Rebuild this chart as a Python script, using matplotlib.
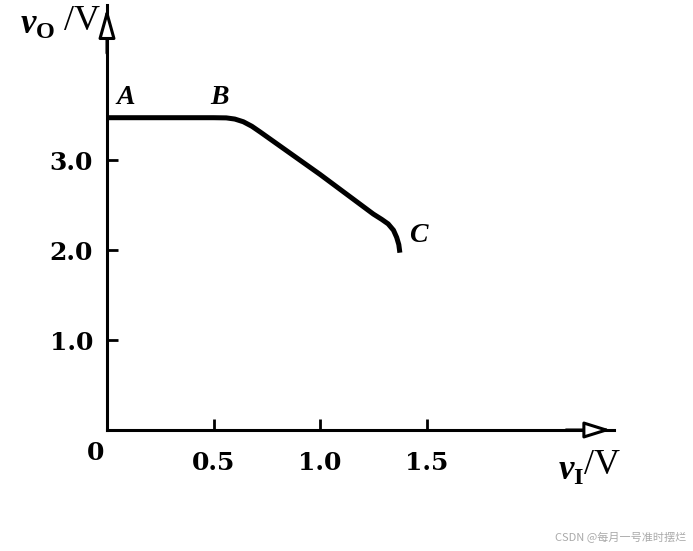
import matplotlib
matplotlib.use("Agg")
import matplotlib.pyplot as plt

plt.rcParams['mathtext.fontset'] = 'custom'
plt.rcParams['mathtext.rm'] = 'Liberation Serif'
plt.rcParams['mathtext.it'] = 'Liberation Serif:italic'
plt.rcParams['mathtext.bf'] = 'Liberation Serif:bold'
plt.rcParams['mathtext.bfit'] = 'Liberation Serif:bold:italic'

# data
v_in = [0.0, 0.50, 0.56, 0.60, 0.64, 0.68, 0.72, 1.00, 1.25, 1.29, 1.32,
        1.345, 1.36, 1.37, 1.375]
v_out = [3.47, 3.47, 3.468, 3.455, 3.425, 3.375, 3.31, 2.84, 2.40, 2.34,
         2.29, 2.22, 2.14, 2.06, 1.97]
x_ticks = [0.5, 1.0, 1.5]
x_ticklabels = ['0.5', '1.0', '1.5']
y_ticks = [1.0, 2.0, 3.0]
y_ticklabels = ['1.0', '2.0', '3.0']
points = {'A': (0.09, 3.55), 'B': (0.53, 3.55), 'C': (1.42, 2.16)}

W, H = 693, 551
fig = plt.figure(figsize=(W / 100, H / 100), dpi=100)
x0, y0 = 107, 430          # pixel position of origin
xend, yend = 614, 5        # pixel ends of the axes
sx, sy = 213.0, 90.0       # pixels per unit
ax = fig.add_axes([x0 / W, (H - y0) / H, (xend - x0) / W, (y0 - yend) / H])
ax.set_xlim(0, (xend - x0) / sx)
ax.set_ylim(0, (y0 - yend) / sy)
ax.patch.set_alpha(0)

for s in ('top', 'right'):
    ax.spines[s].set_visible(False)
for s in ('left', 'bottom'):
    ax.spines[s].set_linewidth(2.2)

ax.set_xticks(x_ticks)
ax.set_xticklabels(x_ticklabels)
ax.set_yticks(y_ticks)
ax.set_yticklabels(y_ticklabels)
ax.tick_params(direction='in', length=8, width=2.0, labelsize=18)
ax.tick_params(axis='x', pad=15)
ax.tick_params(axis='y', pad=10)
for lab in ax.get_xticklabels() + ax.get_yticklabels():
    lab.set_fontfamily('DejaVu Serif')
    lab.set_fontweight('bold')

ax.plot(v_in, v_out, color='black', lw=3.6, solid_capstyle='butt',
        solid_joinstyle='round', clip_on=False)

# arrow heads
ax.annotate('', xy=(1.0, 0), xycoords='axes fraction', xytext=(0.90, 0),
            arrowprops=dict(arrowstyle='-|>,head_length=1.6,head_width=0.5',
                            fc='white', ec='black', lw=2.2))
ax.annotate('', xy=(0, 1.0), xycoords='axes fraction', xytext=(0, 0.88),
            arrowprops=dict(arrowstyle='-|>,head_length=1.8,head_width=0.5',
                            fc='white', ec='black', lw=2.2))

for name, (px, py) in points.items():
    ax.text(px, py, name, fontsize=20, fontfamily='Liberation Serif',
            fontstyle='italic', fontweight='bold',
            ha='center' if name != 'C' else 'left',
            va='bottom' if name != 'C' else 'center')

ax.text(-0.055, -0.25, '0', fontsize=18, fontfamily='DejaVu Serif',
        fontweight='bold', ha='center', va='center')

fig.text(20 / W, 1 - 24 / H, r'$\mathbfit{v}_{\mathbf{O}}$', fontsize=25,
         ha='left', va='center')
fig.text(64 / W, 1 - 22 / H, '/V', fontsize=26, fontfamily='Liberation Serif',
         ha='left', va='center')
fig.text(558 / W, 1 - 470 / H, r'$\mathbfit{v}_{\mathbf{I}}$', fontsize=25,
         ha='left', va='center')
fig.text(584 / W, 1 - 466 / H, '/V', fontsize=26, fontfamily='Liberation Serif',
         ha='left', va='center')

fig.text(686 / W, 1 - 538 / H, 'CSDN @每月一号准时摆烂', fontsize=8,
         color='#aaaaaa', family=['Noto Sans CJK SC', 'DejaVu Sans'],
         ha='right', va='center')

fig.savefig('out.png', dpi=100, facecolor='white')
